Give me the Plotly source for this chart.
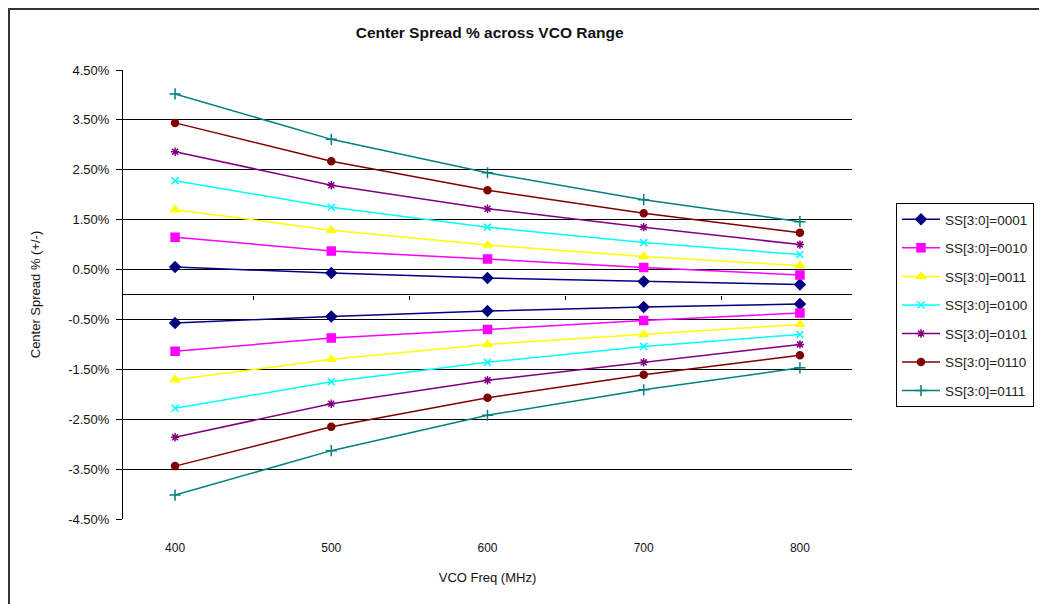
import plotly.graph_objects as go

freq = [400, 500, 600, 700, 800]
names = ["SS[3:0]=0001", "SS[3:0]=0010", "SS[3:0]=0011", "SS[3:0]=0100",
         "SS[3:0]=0101", "SS[3:0]=0110", "SS[3:0]=0111"]

# upper (+) spread, percent
pos_0001 = [0.55, 0.43, 0.33, 0.26, 0.20]
pos_0010 = [1.15, 0.87, 0.71, 0.54, 0.39]
pos_0011 = [1.70, 1.29, 0.99, 0.76, 0.58]
pos_0100 = [2.28, 1.75, 1.35, 1.04, 0.80]
pos_0101 = [2.86, 2.19, 1.72, 1.35, 1.00]
pos_0110 = [3.44, 2.67, 2.09, 1.63, 1.24]
pos_0111 = [4.02, 3.11, 2.44, 1.90, 1.46]

# lower (-) spread, percent
neg_0001 = [-0.57, -0.44, -0.33, -0.25, -0.19]
neg_0010 = [-1.14, -0.87, -0.70, -0.52, -0.37]
neg_0011 = [-1.71, -1.30, -1.00, -0.80, -0.60]
neg_0100 = [-2.28, -1.75, -1.36, -1.04, -0.80]
neg_0101 = [-2.86, -2.19, -1.72, -1.36, -1.00]
neg_0110 = [-3.44, -2.65, -2.07, -1.61, -1.22]
neg_0111 = [-4.02, -3.13, -2.42, -1.91, -1.47]

pos = [pos_0001, pos_0010, pos_0011, pos_0100, pos_0101, pos_0110, pos_0111]
neg = [neg_0001, neg_0010, neg_0011, neg_0100, neg_0101, neg_0110, neg_0111]

colors = ["#000080", "#FF00FF", "#FFFF00", "#00FFFF", "#800080", "#800000", "#008080"]
symbols = ["diamond", "square", "triangle-up", "x-thin-open", "asterisk-open",
           "circle", "cross-thin-open"]
msizes = [8, 8, 8, 7, 7, 7, 8]

y_ticks = [-4.5, -3.5, -2.5, -1.5, -0.5, 0.5, 1.5, 2.5, 3.5, 4.5]
y_ticktext = ["%.2f%%" % v for v in y_ticks]
x_minor_ticks = [450, 550, 650, 750]

fig = go.Figure()
for i, nm in enumerate(names):
    for vals, show in ((pos[i], True), (neg[i], False)):
        fig.add_trace(go.Scatter(
            x=freq, y=vals, name=nm, legendgroup=nm, showlegend=show,
            mode="lines+markers",
            line=dict(color=colors[i], width=1.5),
            marker=dict(symbol=symbols[i], size=msizes[i], color=colors[i],
                        line=dict(color=colors[i], width=1.5)),
        ))

# helper axis to draw category-boundary ticks on the zero line
fig.add_trace(go.Scatter(x=[freq[0]], y=[0], xaxis="x2", mode="markers",
                         marker=dict(opacity=0), showlegend=False, hoverinfo="skip"))

W, H = 1039, 596          # page body adds an 8px offset
L, R, T, B = 115, 844, 62, 511   # plot area in figure px
PW, PH = R - L, B - T

font = "Liberation Sans, Arial, sans-serif"
fig.update_layout(
    width=W, height=H,
    margin=dict(l=L, r=W - R, t=T, b=H - B, autoexpand=False),
    paper_bgcolor="white", plot_bgcolor="white",
    font=dict(family=font, size=12, color="#111"),
    title=dict(text="<b>Center Spread % across VCO Range</b>",
               x=0.503, xref="paper", xanchor="center",
               y=1 - 25 / H, yref="container", yanchor="middle",
               font=dict(size=15.5, color="#111")),
    xaxis=dict(range=[366.667, 833.333], tickvals=freq, showgrid=False,
               zeroline=False, showline=False, ticks="", ticklabelstandoff=20,
               tickfont=dict(size=12),
               title=dict(text="VCO Freq (MHz)", font=dict(size=13), standoff=18)),
    xaxis2=dict(range=[366.667, 833.333], overlaying="x", anchor="free",
                position=0.5, side="bottom", tickvals=x_minor_ticks,
                showticklabels=False, ticks="outside", ticklen=4, tickwidth=1,
                tickcolor="black", showgrid=False, zeroline=False, showline=False),
    yaxis=dict(range=[-4.5, 4.5], tickvals=y_ticks, ticktext=y_ticktext,
               showgrid=True, gridcolor="black", gridwidth=1,
               zeroline=True, zerolinecolor="black", zerolinewidth=1,
               showline=True, linecolor="black", linewidth=1,
               ticks="outside", ticklen=6, tickcolor="black",
               tickfont=dict(size=13), ticklabelstandoff=4,
               title=dict(text="Center Spread % (+/-)", font=dict(size=13), standoff=24)),
    legend=dict(x=(888 - L) / PW, y=(B - 195) / PH, xanchor="left", yanchor="top",
                bordercolor="black", borderwidth=1, bgcolor="white",
                traceorder="grouped", tracegroupgap=8, itemwidth=38,
                font=dict(size=13.5, color="#222")),
    shapes=[dict(type="rect", xref="paper", yref="paper",
                 x0=(1 - L) / PW, x1=(W + 20 - L) / PW,
                 y0=(B - H - 20) / PH, y1=(B - 1) / PH,
                 line=dict(color="#333", width=2), fillcolor="rgba(0,0,0,0)",
                 layer="below")],
)

fig.write_html("out.html")
